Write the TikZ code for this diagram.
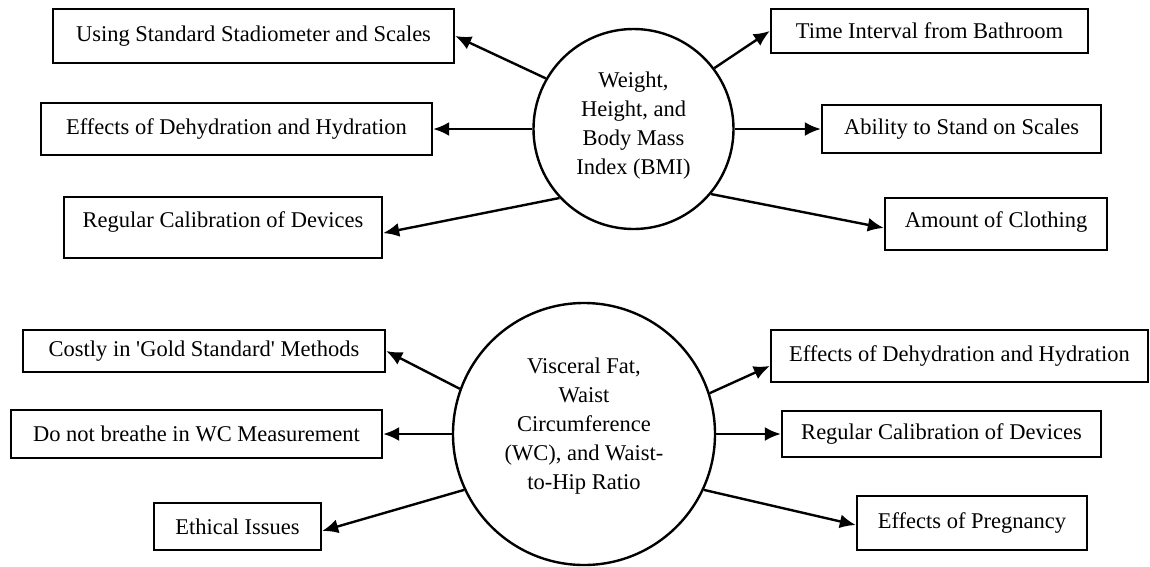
\documentclass[tikz,border=0pt]{standalone}
\usepackage{fontspec}
\setmainfont{Liberation Serif}
\usetikzlibrary{arrows.meta,positioning}

\begin{document}
\begin{tikzpicture}[
    >={Latex[length=16pt,width=14pt]},
    line width=2.4pt,
    on grid,
    font=\fontsize{22.5pt}{29pt}\selectfont,
    topic/.style={draw, circle, inner sep=0pt, align=center},
    factor/.style={draw, rectangle, inner sep=0pt}]
    \useasboundingbox (0pt,0pt) rectangle (1150pt,-566pt);
       \node[topic, minimum size=200pt, text depth=11pt] (bmi) at (633.5pt,-129pt) {Weight,\\Height, and\\Body Mass\\Index (BMI)};
       \node[factor, minimum width=401pt, minimum height=54pt] (stadio) [above left=93pt and 380pt of bmi] {Using Standard Stadiometer and Scales};
       \node[factor, minimum width=391pt, minimum height=52pt] (dehyd_1) [left=397pt of bmi] {Effects of Dehydration and Hydration};
       \node[factor, minimum width=318pt, minimum height=61pt, text depth=15pt] (calib_1) [below left=98.5pt and 410.5pt of bmi] {Regular Calibration of Devices};
       \node[factor, minimum width=317pt, minimum height=44pt] (bathroom) [above right=98pt and 296pt of bmi] {Time Interval from Bathroom};
       \node[factor, minimum width=279pt, minimum height=48pt] (stand) [right=328pt of bmi] {Ability to Stand on Scales};
       \node[factor, minimum width=222pt, minimum height=52pt, text depth=9pt] (clothing) [below right=95pt and 362.5pt of bmi] {Amount of Clothing};

       \node[topic, minimum size=262pt, text depth=21pt] (vfat) at (584pt,-434pt) {Visceral Fat,\\Waist\\Circumference\\(WC), and Waist-\\to-Hip Ratio};
       \node[factor, minimum width=362pt, minimum height=42pt] (costly) [above left=83pt and 380pt of vfat] {Costly in \textquotesingle Gold Standard\textquotesingle{} Methods};
       \node[factor, minimum width=371pt, minimum height=48pt] (breathe) [left=387.5pt of vfat] {Do not breathe in WC Measurement};
       \node[factor, minimum width=167pt, minimum height=47pt] (ethics) [below left=92.5pt and 346.5pt of vfat] {Ethical Issues};
       \node[factor, minimum width=377pt, minimum height=52pt] (dehyd_2) [above right=78pt and 375.5pt of vfat] {Effects of Dehydration and Hydration};
       \node[factor, minimum width=319pt, minimum height=46pt] (calib_2) [right=357.5pt of vfat] {Regular Calibration of Devices};
       \node[factor, minimum width=230pt, minimum height=54pt] (pregnancy) [below right=89pt and 388pt of vfat] {Effects of Pregnancy};
        \path[->]
        (bmi.150) edge (stadio.east)
        (bmi) edge (dehyd_1)
        (bmi.223) edge (calib_1.-2)
        (bmi.37) edge (bathroom.west)
        (bmi.east) edge (stand.west)
        (bmi.-40) edge (clothing.182)
        (vfat.160) edge (costly.east)
        (vfat) edge (breathe)
        (vfat.205) edge (ethics.-3)
        (vfat.18) edge (dehyd_2.183)
        (vfat) edge (calib_2)
        (vfat.-25) edge (pregnancy.181)
        ;
    \end{tikzpicture}
\end{document}
